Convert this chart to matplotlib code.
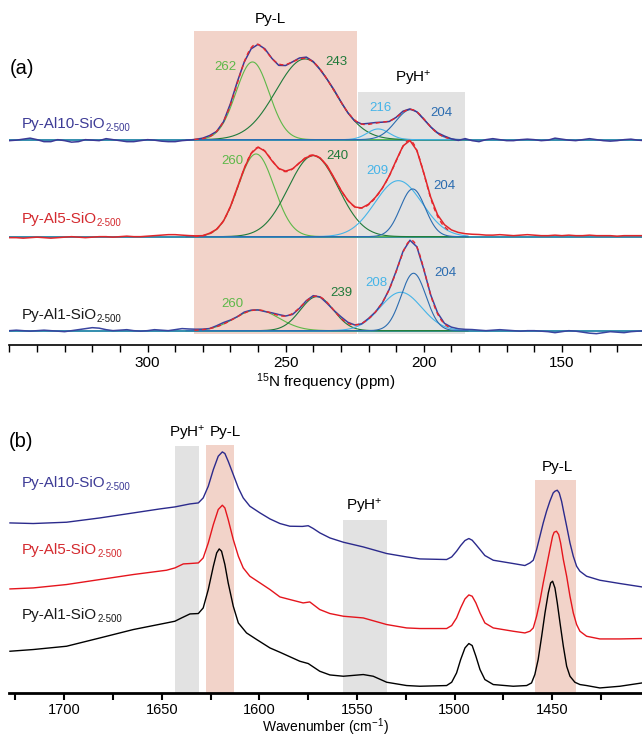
import numpy as np
import matplotlib
matplotlib.use("Agg")
import matplotlib.pyplot as plt
from matplotlib.ticker import FixedLocator, MultipleLocator

plt.rcParams['font.family'] = ['Liberation Sans', 'DejaVu Sans']
plt.rcParams['mathtext.fontset'] = 'custom'
plt.rcParams['mathtext.rm'] = 'Liberation Sans'
plt.rcParams['mathtext.it'] = 'Liberation Sans:italic'
plt.rcParams['mathtext.bf'] = 'Liberation Sans:bold'

# ---------------- datos (a): 15N NMR ----------------
muestras = ["Py-Al10-SiO", "Py-Al5-SiO", "Py-Al1-SiO"]
subindice = "2-500"
color_muestra = ["#3d3b96", "#d42a2f", "#1a1a1a"]
color_exp = ["#3b3a97", "#e0262b", "#3a45a0"]
desplaz_a = [205, 108, 14]

# componentes gaussianas: centro (ppm), altura, sigma (ppm)
centros = [[262.0, 243.0, 216.5, 204.7],
           [260.7, 240.0, 209.2, 204.0],
           [260.4, 238.7, 208.3, 203.7]]
alturas = [[77.7, 80.7, 10.7, 30.0],
           [82.7, 81.0, 56.0, 47.7],
           [20.7, 34.0, 38.4, 57.4]]
sigmas = [[6.0, 10.5, 4.0, 5.5],
          [6.5, 9.0, 8.5, 4.5],
          [8.0, 6.0, 7.5, 4.5]]
etiq_pico = [["262", "243", "216", "204"],
             ["260", "240", "209", "204"],
             ["260", "239", "208", "204"]]
color_comp = ["#5db848", "#1f7a3a", "#45b4e8", "#2b6cb0"]

# ruido residual del espectro experimental, 350 -> 120 ppm cada 2.5 ppm
ppm_exp = np.arange(350, 119.9, -2.5)
residuo = [
    [-1, -0.5, 0.5, 1.5, 0, -2, -2, 0, -1, -2.5, -2, 0, -0.5, -1, 1, 0, -1, -2, -2, -1, 0, -0.5, -1.5, -2, -2, -1, -0.5,
     0, 0.5, 1, 0, -0.5, 1, 1.5, 0, -1, 0, 1, 0, -1.5, -1, 0, 1, 1.5, 0.5, -0.5, 0, 1, 0.5, -0.5, -1, 0, 1, 0.5, 0, -0.5,
     0, 1, 0.5, 0, -0.5, 0, 0.5, 1, 0, -1,
     1, -1, -2, 0, 1, 0, -1, -1, 0, 0.5, 0, -1, -0.5, 1.5, 0.5, -0.5, -1, 0, 1, 0, -1, -1.5, -1, 0, 0.5, -0.5, -1],
    [-1, -1, -1.5, -1, -0.5, -1, -1.5, -1, -0.5, 0, -0.5, -1, -0.5, 0, 0, -0.5, 0, 0.5, 0, 0, 0.5, 1, 1.5, 2, 2, 1.5, 1,
     0.5, 0, 0.5, 0, -0.5, 0, 0.5, 0, 0, 0.5, 0, -0.5, 0, 0.5, 0, 0, -0.5, 0, 0.5, 1, 0.5, 0, 0, -0.5, 0, 0.5, 0.5, 0,
     0, 0.5, 0.5, 0, 0, 0.5, 1, 1.5, 2, 2, 2,
     2, 2, 2, 1.5, 1.5, 2, 1.5, 1, 1.5, 2, 1.5, 1, 1, 1.5, 1, 1.5, 1, 1, 1.5, 1, 1, 1, 0.5, 1, 1, 1, 1],
    [0, 0.5, 0, -0.5, 0, 0.5, 0, -0.5, -1, 0, 1, 2, 3, 2.5, 1, 0, 0.5, 1, 0, -0.5, 0, 1, 0.5, 0, 1, 2, 1.5,
     1, 0.5, 0, 1, 1.5, 0.5, 0, 1, 0.5, 0, -0.5, 0.5, 1, 0, -1, -0.5, 0.5, 1, 0, -1, 0, 1.5, 1, 0, -0.5, 0.5, 0, -0.5,
     0, 0.5, 1, 0.5, 0, -0.5, 0, 1, 0.5, 1, 1,
     1, 1, 0.5, 0, 0.5, 1, 0.5, 0, -0.5, 0, 0, -0.5, -1, -2, -1, 0, -0.5, -1.5, -2.5, -3, -2, -1, -1.5, -2, -1, -0.5, 0],
]

banda_pyl_a = (283.0, 224.2)
banda_pyh_a = (223.8, 185.0)

# ---------------- datos (b): FTIR ----------------
wn_al10 = [1727.8, 1715.9, 1698.8, 1681.7, 1664.6, 1651.0, 1643.3, 1635.6, 1631.3, 1628.8, 1626.2, 1623.6,
           1621.1, 1619.0, 1617.7, 1616.0, 1613.4, 1610.8, 1608.3, 1604.9, 1599.7, 1594.6, 1589.5, 1584.4,
           1578.0, 1575.0, 1572.5, 1569.0, 1563.9, 1557.0, 1546.8, 1534.8, 1524.6, 1517.8, 1504.1, 1501.5,
           1499.0, 1496.9, 1494.7, 1492.7, 1491.0, 1489.1, 1487.0, 1484.5, 1480.2, 1470.0, 1464.0, 1461.4,
           1459.7, 1458.0, 1456.3, 1454.6, 1452.9, 1451.2, 1449.5, 1448.6, 1447.4, 1446.4, 1445.2, 1444.0,
           1442.6, 1440.9, 1439.2, 1437.5, 1435.8, 1432.4, 1425.6, 1415.3, 1404.0]
ir_al10 = [170.0, 169.4, 170.7, 175.0, 180.0, 184.0, 186.0, 189.0, 190.0, 195.0, 206.7, 223.4,
           236.7, 241.0, 239.4, 231.7, 218.4, 205.0, 195.0, 186.7, 180.0, 174.0, 169.4, 166.7,
           166.5, 167.2, 164.5, 160.0, 155.0, 150.7, 146.0, 139.4, 136.0, 134.0, 133.4, 136.0,
           141.7, 147.4, 152.4, 154.4, 152.7, 148.4, 143.4, 137.4, 132.7, 129.4, 127.4, 130.0,
           132.7, 143.4, 156.7, 170.0, 181.7, 191.7, 200.0, 201.7, 202.7, 200.0, 191.7, 180.0,
           166.7, 150.0, 136.7, 126.7, 121.7, 116.7, 112.7, 109.4, 106.0]

wn_al5 = [1727.8, 1715.9, 1698.8, 1681.7, 1664.6, 1647.6, 1643.3, 1639.0, 1635.6, 1631.3, 1628.8, 1626.2,
          1623.6, 1621.1, 1619.0, 1617.7, 1616.0, 1613.4, 1610.8, 1608.3, 1604.9, 1599.7, 1594.6, 1589.5,
          1584.4, 1577.6, 1574.2, 1569.1, 1563.9, 1557.0, 1546.8, 1534.8, 1524.6, 1517.8, 1504.1, 1501.5,
          1499.0, 1496.9, 1494.7, 1492.7, 1491.0, 1489.1, 1487.0, 1484.5, 1480.2, 1470.0, 1464.0, 1461.4,
          1459.7, 1458.0, 1456.3, 1454.6, 1452.9, 1451.2, 1449.8, 1449.0, 1447.8, 1446.7, 1445.7, 1444.3,
          1442.6, 1440.9, 1439.2, 1437.5, 1435.8, 1432.4, 1425.6, 1415.3, 1404.0]
ir_al5 = [104.0, 105.0, 108.4, 113.4, 118.4, 122.7, 125.0, 129.0, 129.4, 130.0, 135.0, 150.0,
          168.4, 183.4, 187.7, 185.0, 173.4, 153.4, 136.7, 125.0, 116.7, 110.0, 103.4, 96.0,
          93.4, 90.0, 91.0, 83.4, 79.4, 76.7, 75.0, 68.4, 65.0, 64.4, 64.4, 67.4,
          75.0, 85.0, 94.0, 98.0, 96.7, 90.0, 80.0, 70.0, 65.0, 61.7, 60.0, 61.7,
          65.0, 76.7, 91.7, 110.0, 126.7, 143.4, 156.7, 160.7, 161.7, 158.4, 150.0, 133.4,
          116.7, 96.7, 80.0, 68.4, 61.7, 56.7, 54.0, 54.0, 54.4]

wn_al1 = [1727.8, 1715.9, 1698.8, 1681.7, 1664.6, 1647.6, 1643.3, 1639.9, 1635.6, 1631.3, 1628.8, 1626.2,
          1623.6, 1621.9, 1620.6, 1619.4, 1617.7, 1616.0, 1613.4, 1610.8, 1606.6, 1601.4, 1594.6, 1589.5,
          1579.3, 1575.0, 1569.1, 1563.9, 1557.0, 1546.8, 1541.7, 1534.8, 1524.6, 1517.8, 1504.1, 1501.5,
          1499.0, 1496.9, 1494.7, 1492.7, 1491.0, 1489.1, 1487.0, 1484.5, 1480.2, 1470.0, 1463.1, 1460.6,
          1458.9, 1457.2, 1455.4, 1453.7, 1452.0, 1450.8, 1449.8, 1448.6, 1447.4, 1446.0, 1444.3, 1442.6,
          1440.9, 1438.4, 1435.8, 1432.4, 1425.6, 1415.3, 1404.0]
ir_al1 = [41.7, 43.4, 46.7, 55.0, 63.4, 70.0, 71.7, 75.0, 79.0, 79.4, 85.0, 103.4,
          126.7, 140.0, 144.0, 141.7, 128.4, 110.0, 86.7, 70.0, 60.0, 53.4, 45.0, 40.7,
          31.7, 29.4, 21.7, 18.0, 16.7, 18.4, 16.7, 10.7, 7.4, 6.7, 7.4, 10.7,
          20.0, 33.4, 45.0, 49.4, 47.4, 36.7, 23.4, 13.4, 8.4, 6.7, 7.4, 10.0,
          18.4, 33.4, 56.7, 80.0, 100.0, 110.0, 111.7, 105.0, 90.0, 70.0, 46.7, 26.7,
          16.7, 10.7, 8.4, 7.4, 5.0, 6.7, 10.0]

color_ir = ["#2b2a8c", "#e5151d", "#000000"]
ROSA = "#f2d3c9"
GRIS = "#e2e2e2"
bandas_b = [(1643.4, 1631.0, 246.7, GRIS), (1627.4, 1612.8, 247.7, ROSA),
            (1557.2, 1534.8, 172.7, GRIS), (1458.8, 1437.6, 213.4, ROSA)]


def etiqueta_muestra(ax, x, y, texto, color):
    t = ax.text(x, y, texto, fontsize=11, color=color, ha="left", va="baseline")
    ax.annotate(subindice, xy=(1, 0), xycoords=t, xytext=(0.3, -1.5),
                textcoords="offset points", fontsize=7, color=color,
                ha="left", va="bottom")


def gauss(x, c, h, s):
    return h * np.exp(-0.5 * ((x - c) / s) ** 2)


fig = plt.figure(figsize=(6.42, 7.36), dpi=100)

# ================= panel (a) =================
ax = fig.add_axes([0.01464, 0.5317, 0.98536, 0.4548])
ax.set_xlim(350, 121)
ax.set_ylim(0, 334.7)

ax.fill_between(banda_pyl_a, 10.7, 313.7, color=ROSA, lw=0, zorder=0)
ax.fill_between(banda_pyh_a, 10.7, 252.7, color=GRIS, lw=0, zorder=0)

malla = np.linspace(286, 184, 500)
malla_fit = np.linspace(283, 191, 400)
pos_lab = [[(271.8, 278), (231.5, 283), (215.8, 236.4), (193.6, 232)],
           [(269.3, 183.7), (231.1, 189), (216.7, 174), (192.5, 159)],
           [(269.2, 40.4), (229.9, 52), (217.3, 62), (192.1, 72)]]
y_lab_a = [217, 122, 25.7]

for i in range(3):
    b = desplaz_a[i]
    ax.axhline(b, color="#2386a8", lw=1.3, zorder=1)
    fit = np.zeros_like(malla_fit)
    modelo = np.zeros_like(ppm_exp)
    for c, h, s, col in zip(centros[i], alturas[i], sigmas[i], color_comp):
        ax.plot(malla, b + gauss(malla, c, h, s), color=col, lw=0.8, zorder=2)
        fit += gauss(malla_fit, c, h, s)
        modelo += gauss(ppm_exp, c, h, s)
    ax.plot(ppm_exp, b + modelo + np.array(residuo[i]), color=color_exp[i], lw=1.1, zorder=3)
    ax.plot(malla_fit, b + fit, color="#e8262b", lw=1.0, ls=(0, (3, 2.5)), zorder=4)
    for (xl, yl), txt, col in zip(pos_lab[i], etiq_pico[i], color_comp):
        ax.text(xl, yl, txt, fontsize=9.5, color=col, ha="center", va="center")
    etiqueta_muestra(ax, 345.7, y_lab_a[i], muestras[i], color_muestra[i])

ax.text(255.5, 325.7, "Py-L", fontsize=11, ha="center", va="center")
ax.text(203.7, 265.7, "PyH$^{+}$", fontsize=11, ha="center", va="center")
ax.text(0.0, 276.4, "(a)", fontsize=14.5, ha="left", va="center",
        transform=ax.get_yaxis_transform())

for lado in ["left", "right", "top"]:
    ax.spines[lado].set_visible(False)
ax.spines["bottom"].set_linewidth(1.2)
ax.set_yticks([])
ax.xaxis.set_major_locator(FixedLocator([300, 250, 200, 150]))
ax.xaxis.set_minor_locator(MultipleLocator(10))
ax.tick_params(axis="x", which="both", direction="out", length=5, width=1.0,
               labelsize=11, pad=3.5)
ax.set_xlabel("$^{15}$N frequency (ppm)", fontsize=11, labelpad=1)

# ================= panel (b) =================
bx = fig.add_axes([0.0140, 0.0585, 0.986, 0.3760])
bx.set_xlim(1728.3, 1404.0)
bx.set_ylim(0, 276.7)

for x0, x1, top, col in bandas_b:
    bx.fill_between([x0, x1], 0, top, color=col, lw=0, zorder=0)

bx.plot(wn_al10, ir_al10, color=color_ir[0], lw=1.0, zorder=3)
bx.plot(wn_al5, ir_al5, color=color_ir[1], lw=1.0, zorder=3)
bx.plot(wn_al1, ir_al1, color=color_ir[2], lw=1.0, zorder=3)

y_lab_b = [206, 139.4, 74]
for i in range(3):
    etiqueta_muestra(bx, 1721.8, y_lab_b[i], muestras[i], color_muestra[i])

bx.text(1637.0, 259, "PyH$^{+}$", fontsize=11, ha="center", va="center")
bx.text(1617.2, 260.7, "Py-L", fontsize=11, ha="center", va="center")
bx.text(1546.0, 186, "PyH$^{+}$", fontsize=11, ha="center", va="center")
bx.text(1447.3, 225.7, "Py-L", fontsize=11, ha="center", va="center")
bx.text(0.0, 251.7, "(b)", fontsize=14.5, ha="left", va="center",
        transform=bx.get_yaxis_transform())

for lado in ["left", "right", "top"]:
    bx.spines[lado].set_visible(False)
bx.spines["bottom"].set_linewidth(2.0)
bx.set_yticks([])
bx.xaxis.set_major_locator(FixedLocator([1700, 1650, 1600, 1550, 1500, 1450]))
bx.xaxis.set_minor_locator(MultipleLocator(25))
bx.tick_params(axis="x", which="both", direction="out", length=5, width=1.5,
               labelsize=10.5, pad=2.0)
bx.set_xlabel("Wavenumber (cm$^{-1}$)", fontsize=10, labelpad=0)

fig.savefig("out.png", dpi=100)
